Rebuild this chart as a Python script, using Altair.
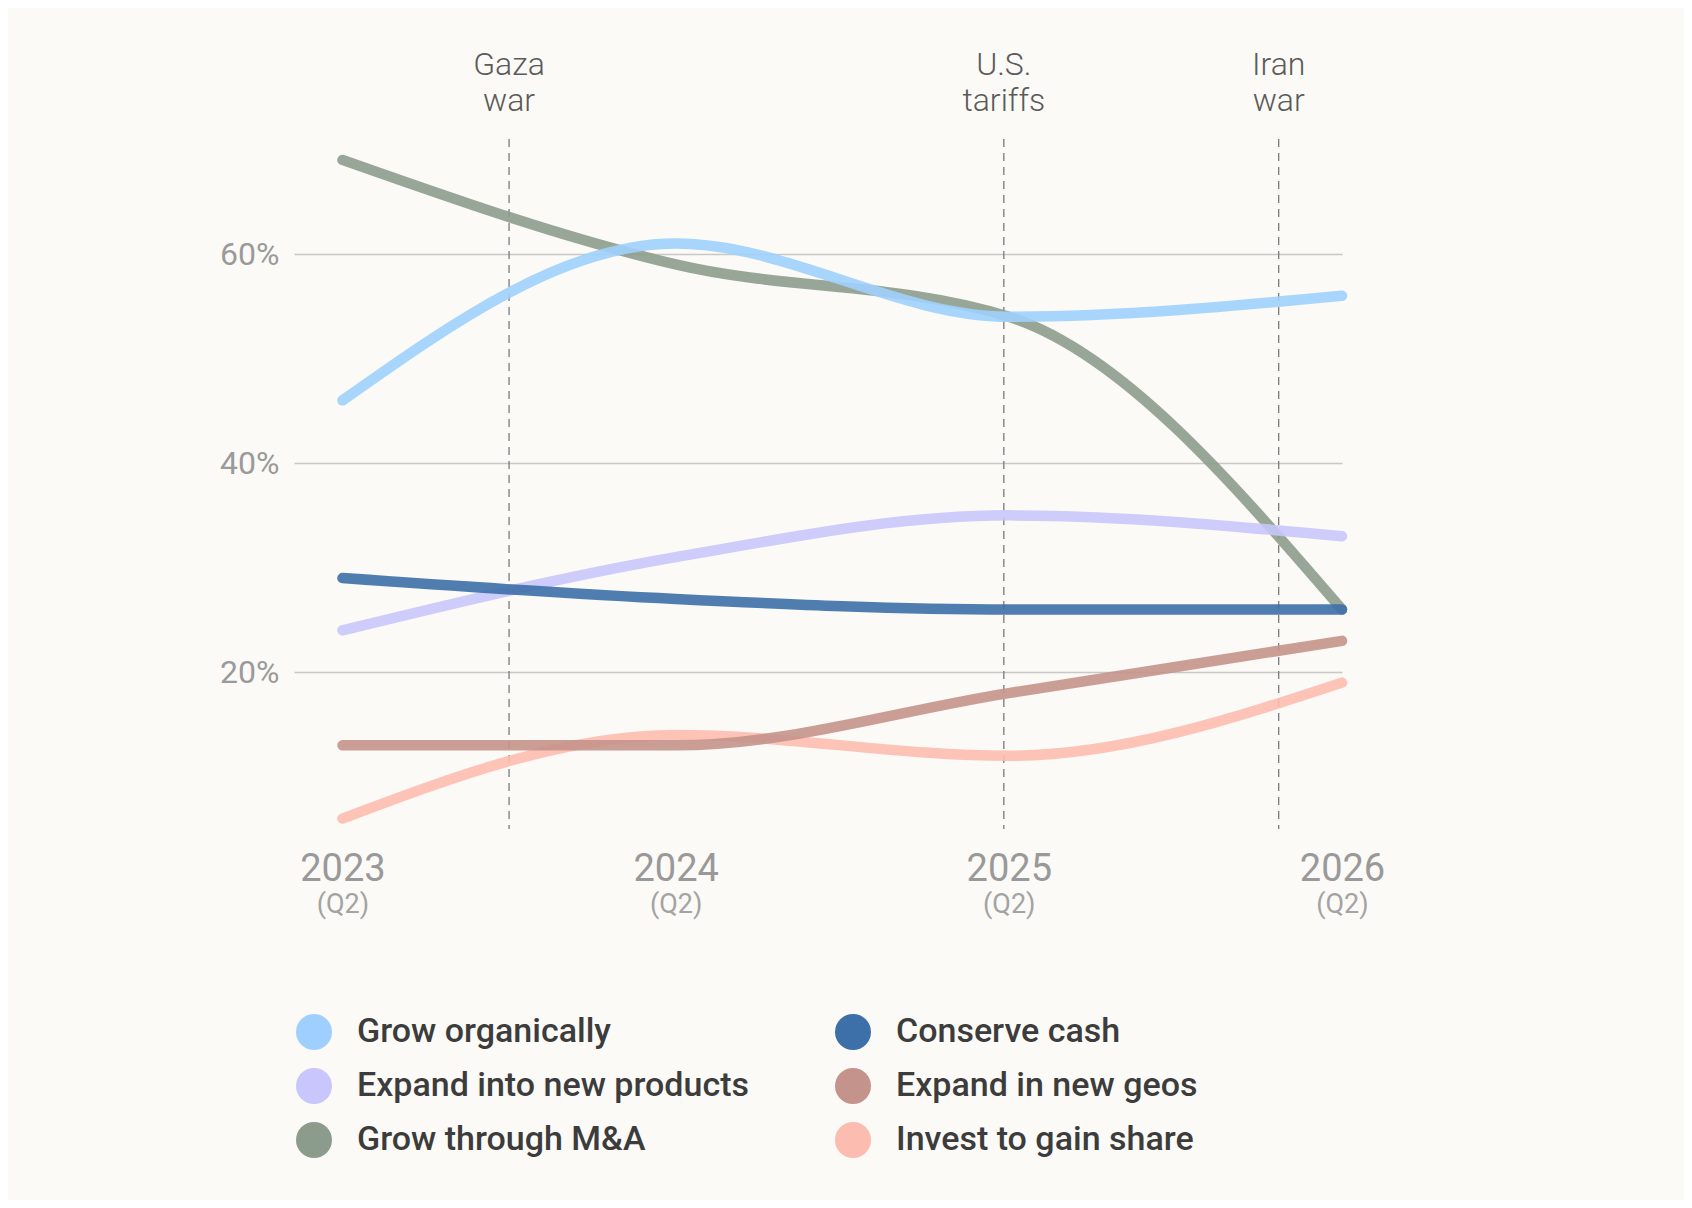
import altair as alt
import pandas as pd

# ---- data ----
years = [2023, 2024, 2025, 2026]
# drawing order (bottom to top)
series_names = [
    "Invest to gain share", "Grow through M&A", "Expand into new products",
    "Expand in new geos", "Conserve cash", "Grow organically",
]
invest_share = [6, 14, 12, 19]
grow_ma = [69, 59, 54, 26]
expand_products = [24, 31, 35, 33]
expand_geos = [13, 13, 18, 23]
conserve_cash = [29, 27, 26, 26]
grow_organically = [46, 61, 54, 56]
values_by_series = [invest_share, grow_ma, expand_products,
                    expand_geos, conserve_cash, grow_organically]

# legend order (filled column by column)
legend_order = [
    "Grow organically", "Expand into new products", "Grow through M&A",
    "Conserve cash", "Expand in new geos", "Invest to gain share",
]
legend_colors = ["#9fd0fd", "#c8c6fc", "#8c9c8c", "#3d6fa8", "#c4938b", "#fdbcb0"]

event_names = ["Gaza\nwar", "U.S.\ntariffs", "Iran\nwar"]
event_x = [2023.5, 2024.985, 2025.81]

y_ticks = [20, 40, 60]

rows = []
for name, vals in zip(series_names, values_by_series):
    for yr, v in zip(years, vals):
        rows.append({"series": name, "year": yr, "value": v})
df = pd.DataFrame(rows)
events = pd.DataFrame({"x": event_x, "label": event_names})

FONT = "Roboto"
x_scale = alt.Scale(domain=[2022.8545, 2026], nice=False, zero=False)
y_scale = alt.Scale(domain=[5, 71], nice=False, zero=False)
color_scale = alt.Scale(domain=legend_order, range=legend_colors)

y_axis = alt.Axis(values=y_ticks, labelExpr="datum.value + '%'", title=None,
                  ticks=False, domain=False, grid=True, gridColor="#c8c8c8",
                  gridWidth=1.5, labelFont=FONT, labelFontSize=32,
                  labelColor="#9a9a9a", labelPadding=15)

year_axis = alt.Axis(values=years, format="d", title=None, orient="bottom",
                     ticks=False, domain=False, grid=False, labelFont=FONT,
                     labelFontSize=38, labelColor="#999999", labelPadding=21,
                     labelFlush=False, labelOverlap=False)
q_axis = alt.Axis(values=years, labelExpr="'(Q2)'", title=None, orient="bottom",
                  ticks=False, domain=False, grid=False, labelFont=FONT,
                  labelFontSize=27, labelColor="#a3a3a3", labelPadding=62,
                  labelFlush=False, labelOverlap=False)

legend = alt.Legend(title=None, orient="none", legendX=2, legendY=875,
                    columns=2, columnPadding=86, rowPadding=18,
                    symbolType="circle", symbolSize=1296, symbolStrokeWidth=0,
                    symbolOpacity=1, labelFont=FONT, labelFontSize=34,
                    labelFontWeight=500, labelColor="#3c3c3c", labelOffset=25,
                    labelLimit=1000, padding=0)

dots = alt.Chart(df).mark_circle(size=0).encode(
    x=alt.X("year:Q", scale=x_scale, axis=year_axis),
    y=alt.Y("value:Q", scale=y_scale, axis=y_axis),
    color=alt.Color("series:N", scale=color_scale, sort=legend_order, legend=legend),
)

rules = alt.Chart(events).mark_rule(color="#7a7a7a", strokeWidth=1.3,
                                    strokeDash=[8, 6]).encode(
    x=alt.X("x:Q", scale=x_scale, axis=q_axis),
)

event_text = alt.Chart(events).mark_text(
    font=FONT, fontSize=32, fontWeight=300, color="#5b5b5b", align="center",
    baseline="alphabetic", lineBreak="\n", lineHeight=36.5, dy=-64.4,
).encode(
    x=alt.X("x:Q", scale=x_scale, axis=None),
    y=alt.value(0),
    text="label:N",
)

lines = alt.Chart(df).mark_line(interpolate="monotone", strokeWidth=10.5,
                                strokeCap="round", opacity=0.9).encode(
    x=alt.X("year:Q", scale=x_scale, axis=None),
    y=alt.Y("value:Q", scale=y_scale, axis=y_axis),
    color=alt.Color("series:N", scale=color_scale, sort=legend_order, legend=legend),
    detail="series:N",
)

chart = alt.layer(dots, rules, event_text, lines).resolve_axis(
    x="independent"
).properties(
    width=1048, height=690,
    autosize=alt.AutoSizeParams(type="none"),
    padding={"left": 286, "top": 131, "right": 342, "bottom": 371},
    background="#fbfaf6",
).configure_view(stroke=None)

chart.save("out.html", embed_options={"renderer": "svg", "actions": False})
